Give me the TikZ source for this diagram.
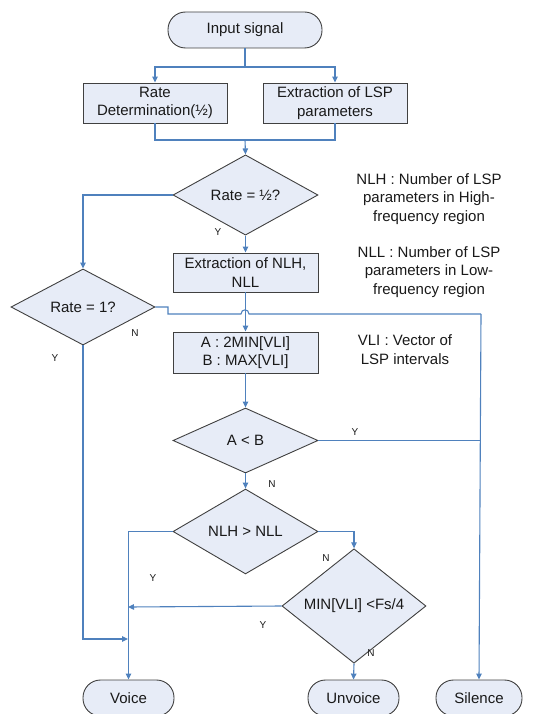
\documentclass[tikz,border=0pt]{standalone}
\usepackage{fontspec}
\setmainfont{Liberation Sans}
\usetikzlibrary{shapes.geometric,arrows.meta}
\definecolor{boxfill}{RGB}{231,236,247}
\definecolor{boxline}{RGB}{64,64,64}
\definecolor{conn}{RGB}{79,129,189}
\definecolor{txt}{RGB}{25,25,25}
\begin{document}
\begin{tikzpicture}[x=1pt,y=-1pt,
  base/.style={draw=boxline,fill=boxfill,line width=0.9pt,text=txt,inner sep=1pt,
    font=\fontsize{15}{18.5}\selectfont,align=center},
  term/.style={base,rounded corners=17.5pt,minimum height=36pt},
  procbox/.style={base,rectangle,minimum width=145pt},
  decide/.style={base,diamond,minimum width=145pt,minimum height=65pt,inner sep=0pt},
  link/.style={draw=conn,line width=1.1pt},
  arr/.style={link,-{Triangle[length=6pt,width=5.5pt]}},
  yn/.style={text=txt,font=\fontsize{10}{12}\selectfont,inner sep=0pt},
  note/.style={text=txt,font=\fontsize{15}{18.8}\selectfont,align=center,inner sep=0pt}]
\useasboundingbox (0,0) rectangle (540,714);
\clip (0,0) rectangle (540,714);

% nodes
\node[term,minimum width=154pt] (in) at (245,30) {Input signal};
\node[procbox,minimum width=144pt,minimum height=40pt] (rd) at (155,103) {Rate\\Determination(½)};
\node[procbox,minimum width=144pt,minimum height=40pt] (ex) at (335,103) {Extraction of LSP\\parameters};
\node[decide,minimum height=66pt] (d1) at (245.5,195) {Rate = ½?};
\node[decide,minimum width=144pt,minimum height=64pt] (d2) at (83,307) {Rate = 1?};
\node[procbox,minimum height=39pt] (nl) at (245.5,272.5) {Extraction of NLH,\\NLL};
\node[procbox,minimum height=41pt] (ab) at (245.5,352.5) {A : 2MIN[VLI]\\B : MAX[VLI]};
\node[decide] (d3) at (245.5,440.5) {A {\textless} B};
\node[decide,minimum height=63pt] (d4) at (245.5,531.5) {NLH {\textgreater} NLL};
\node[decide,minimum width=144pt,minimum height=64pt] (d5) at (354,606) {MIN[VLI] {\textless}Fs/4};
\node[term,minimum width=91pt] (voice) at (128.5,698) {Voice};
\node[term,minimum width=91pt] (unvoice) at (353.5,698) {Unvoice};
\node[term,minimum width=86pt] (silence) at (479,698) {Silence};

% notes
\node[note] (n1) at (429,199) {NLH : Number of LSP\\parameters in High-\\frequency region};
\node[note] (n2) at (429,272) {NLL : Number of LSP\\parameters in Low-\\frequency region};
\node[note] (n3) at (405,350) {VLI : Vector of\\LSP intervals};

% junction coordinates
\coordinate (s1) at (245,67);
\coordinate (m1) at (245,140);
\coordinate (j1) at (168,314);
\coordinate (h1) at (241,314);
\coordinate (h2) at (249,314);
\coordinate (r1) at (481,314);
\coordinate (v1) at (83,639);
\coordinate (v2) at (128,639);
\coordinate (v3) at (128,607);

% connectors
\draw[link] (in.south) -- (s1);
\draw[arr] (s1) -| (rd.north);
\draw[arr] (s1) -| (ex.north);
\draw[link] (rd.south) |- (m1);
\draw[link] (ex.south) |- (m1);
\draw[arr] (m1) -- (d1.north);
\draw[arr] (d1.west) -| (d2.north);
\draw[arr] (d1.south) -- (nl.north);
\draw[arr] (nl.south) -- (ab.north);
\draw[link] (d2.east) -| (j1) -- (h1) .. controls (241,308.5) and (249,308.5) .. (h2) -- (r1);
\draw[arr] (r1) -- (silence.north);
\draw[arr] (d2.south) |- (v2);
\draw[arr] (ab.south) -- (d3.north);
\draw[link] (d3.east) -- (r1 |- d3.east);
\draw[arr] (d3.south) -- (d4.north);
\draw[arr] (d4.west) -| (voice.north);
\draw[arr] (d4.east) -| (d5.north);
\draw[arr] (d5.west) -- (v3);
\draw[arr] (d5.south) -- (unvoice.north);

% labels
\node[yn] (y1) at (218,232) {Y};
\node[yn] (n1l) at (135,333) {N};
\node[yn] (y2) at (55,358) {Y};
\node[yn] (y3) at (355,432) {Y};
\node[yn] (n2l) at (272,484) {N};
\node[yn] (y4) at (153,578) {Y};
\node[yn] (n3l) at (326,558) {N};
\node[yn] (y5) at (263,625) {Y};
\node[yn] (n4l) at (371,653) {N};
\end{tikzpicture}
\end{document}
